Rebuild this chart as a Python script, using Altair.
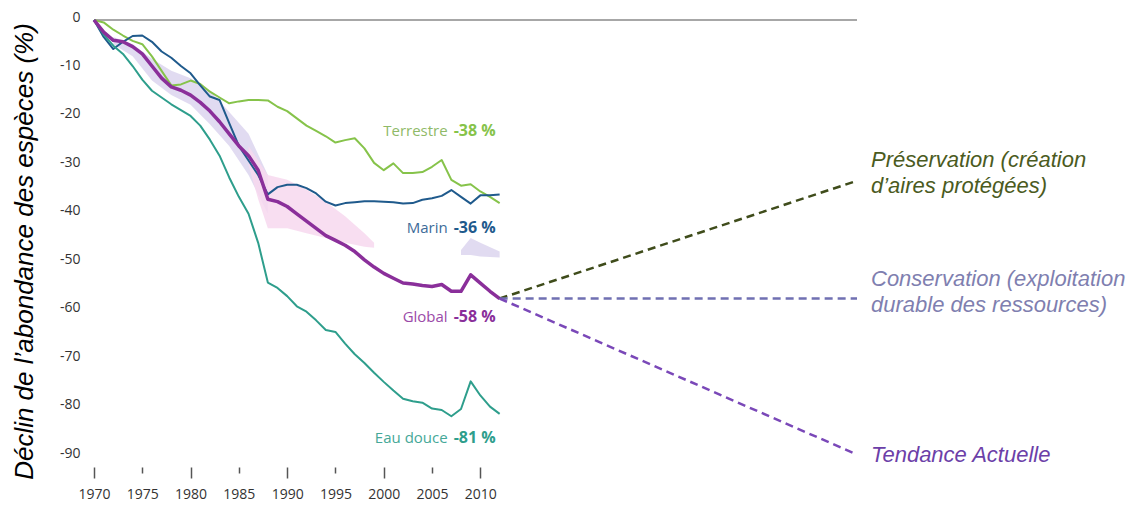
import altair as alt
import pandas as pd

# ---------------- data ----------------
years = list(range(1970, 2013))

terrestre = [0, -0.5, -2, -3.2, -4.3, -5, -7.5, -10.5, -13.5, -13.3,
             -12.5, -13.2, -14.8, -16, -17.2, -16.8, -16.5, -16.5, -16.6, -17.9,
             -18.8, -20.3, -21.8, -22.9, -24, -25.3, -24.8, -24.4, -26.5, -29.5,
             -31, -29.6, -31.6, -31.6, -31.4, -30.3, -28.9, -33, -34.2, -33.9,
             -35.4, -36.5, -37.8]

marin = [0, -3.5, -6, -4.5, -3.3, -3.2, -4.5, -6.5, -7.8, -9.5,
         -11, -13.5, -15.8, -16.5, -21.3, -26, -29, -32, -36, -34.5,
         -34, -34, -34.7, -35.8, -37.5, -38.3, -37.8, -37.6, -37.4, -37.4,
         -37.5, -37.6, -37.9, -37.8, -37.1, -36.8, -36.3, -35.1, -36.5, -37.9,
         -36.2, -36.2, -36]

global_ = [0, -2.5, -4.2, -4.5, -5.5, -7, -9.5, -12, -13.8, -14.5,
           -15.5, -17, -18.8, -21, -23.5, -26, -28, -31, -37, -37.5,
           -38.5, -40, -41.5, -43, -44.5, -45.5, -46.5, -47.8, -49.5, -51,
           -52.3, -53.3, -54.3, -54.5, -54.8, -55, -54.6, -56, -56, -52.6,
           -54.3, -56, -57.5]

eau_douce = [0, -3, -5.3, -7, -9.5, -12.3, -14.6, -16, -17.4, -18.6,
             -19.8, -21.8, -24.7, -28, -32.5, -36.5, -40, -46, -54.2, -55.3,
             -57, -59.1, -60.2, -62, -64, -64.4, -66.8, -69, -70.8, -72.8,
             -74.7, -76.5, -78.2, -78.7, -79, -80.2, -80.5, -81.8, -80.3, -74.6,
             -77.5, -79.8, -81.3]

series_names = ["Terrestre", "Marin", "Global", "Eau douce"]
series_colors = ["#86c34a", "#1f5a8c", "#8a2f9a", "#2e9e8c"]

# confidence band of the global index (three pieces)
band_seg = ["a"] * 9 + ["b"] * 9 + ["c"] * 4
band_years = [1972, 1974, 1976, 1978, 1980, 1982, 1984, 1986, 1988,
              1986, 1987, 1988, 1990, 1992, 1994, 1996, 1998, 1999,
              2008, 2009, 2010, 2012]
band_upper = [-3.5, -5, -8, -10.5, -12, -14.5, -19, -23.5, -32,
              -26, -29, -32, -33, -35, -37.5, -40.5, -44, -46,
              -47.5, -45, -46, -47.8]
band_lower = [-5, -7.5, -12.5, -15.5, -17.5, -21.5, -26, -32, -40,
              -30, -37, -43, -43, -44, -45, -46, -46.8, -47,
              -48.5, -48.5, -48.8, -49]
band_colors = ["#dcd5ee", "#f7d8ee", "#dcd5ee"]

# end labels
label_values = ["-38 %", "-36 %", "-58 %", "-81 %"]
label_anchor = [-22.9, -42.9, -61.4, -86.2]
label_year = 2012
name_colors = ["#8fba68", "#3d6b99", "#9b4aa8", "#45a898"]

# scenarios
scen_names = ["Préservation", "Conservation", "Tendance"]
scen_texts = ["Préservation (création\nd’aires protégées)",
              "Conservation (exploitation\ndurable des ressources)",
              "Tendance Actuelle"]
scen_start_year = 2012
scen_start_value = -57.5
scen_end_year = 2049
scen_end_values = [-33.2, -57.5, -89.7]
scen_line_colors = ["#3f4c1b", "#7070b2", "#7a48b8"]
scen_text_colors = ["#4b5b1e", "#7f7fb0", "#6c3fa8"]
scen_dy = [-21, -20, 0]

x_ticks = [1970, 1975, 1980, 1985, 1990, 1995, 2000, 2005, 2010]
y_ticks = [0, -10, -20, -30, -40, -50, -60, -70, -80, -90]
y_title = "Déclin de l’abondance des espèces (%)"

# ---------------- tables ----------------
rows = []
for name, vals in zip(series_names, [terrestre, marin, global_, eau_douce]):
    for yr, v in zip(years, vals):
        rows.append({"serie": name, "annee": yr, "valeur": v})
df = pd.DataFrame(rows)

band_df = pd.DataFrame({"seg": band_seg, "annee": band_years,
                        "haut": band_upper, "bas": band_lower})

lab_df = pd.DataFrame({"serie": series_names, "val": label_values,
                       "pos": label_anchor, "annee": [label_year] * 4})

scen_rows = []
for n, ev in zip(scen_names, scen_end_values):
    scen_rows.append({"scen": n, "annee": scen_start_year, "valeur": scen_start_value})
    scen_rows.append({"scen": n, "annee": scen_end_year, "valeur": ev})
scen_df = pd.DataFrame(scen_rows)
scen_txt_df = pd.DataFrame({"scen": scen_names, "txt": scen_texts,
                            "annee": [scen_end_year] * 3, "valeur": scen_end_values})

# ---------------- scales ----------------
xs = alt.Scale(domain=[1970, 2049], nice=False, zero=False)
ys = alt.Scale(domain=[-90, 0], nice=False, zero=False)

x_axis = alt.Axis(
    values=x_ticks, format="d", title=None, domain=False, grid=False,
    offset=11, labelFlush=False,
    tickSize={"condition": {"test": "datum.value % 10 === 0", "value": 11}, "value": 6},
    labelPadding={"condition": {"test": "datum.value % 10 === 0", "value": 9}, "value": 14},
    tickColor="#555555", tickWidth=1.5,
    labelFont="Open Sans", labelFontSize=14, labelColor="#333333",
)
y_axis = alt.Axis(
    values=y_ticks, title=y_title, domain=False, grid=False, ticks=False,
    labelExpr="datum.value == 0 ? '0' : '-' + abs(datum.value)",
    labelPadding=14, labelOffset=-3,
    labelFont="Open Sans", labelFontSize=14, labelColor="#333333",
    titleFont="Liberation Sans", titleFontStyle="italic", titleFontWeight="normal",
    titleFontSize=26, titleColor="#000000",
    titleAngle=270, titleX=-70, titleY=231, titleAlign="center", titleBaseline="middle",
)


def X():
    return alt.X("annee:Q", scale=xs, axis=x_axis)


def Y(f="valeur"):
    return alt.Y(f + ":Q", scale=ys, axis=y_axis)


top_rule = alt.Chart(pd.DataFrame({"v": [0]})).mark_rule(
    color="#8a8a8a", strokeWidth=1.5
).encode(y=alt.Y("v:Q", scale=ys, axis=y_axis))

band = alt.Chart(band_df).mark_area(opacity=0.85).encode(
    x=X(), y=Y("haut"), y2="bas:Q",
    color=alt.Color("seg:N", scale=alt.Scale(domain=["a", "b", "c"], range=band_colors), legend=None),
    detail="seg:N",
)

series_color = alt.Color("serie:N", scale=alt.Scale(domain=series_names, range=series_colors), legend=None)

thin_lines = alt.Chart(df).transform_filter(alt.datum.serie != "Global").mark_line(
    strokeJoin="round", strokeWidth=2
).encode(x=X(), y=Y(), color=series_color, order=alt.Order("annee:Q"))

global_line = alt.Chart(df).transform_filter(alt.datum.serie == "Global").mark_line(
    strokeJoin="round", strokeWidth=3.5
).encode(x=X(), y=Y(), color=series_color, order=alt.Order("annee:Q"))

scen_lines = alt.Chart(scen_df).mark_line(strokeDash=[8, 5], strokeWidth=2.5).encode(
    x=X(), y=Y(),
    color=alt.Color("scen:N", scale=alt.Scale(domain=scen_names, range=scen_line_colors), legend=None),
    detail="scen:N",
)

val_text = alt.Chart(lab_df).mark_text(
    align="right", baseline="middle", dx=-4, font="Open Sans", fontSize=16, fontWeight="bold"
).encode(
    x=X(), y=Y("pos"), text="val:N",
    color=alt.Color("serie:N", scale=alt.Scale(domain=series_names, range=series_colors), legend=None),
)

name_text = alt.Chart(lab_df).mark_text(
    align="right", baseline="middle", dx=-52, font="Open Sans", fontSize=15
).encode(
    x=X(), y=Y("pos"), text="serie:N",
    color=alt.Color("serie:N", scale=alt.Scale(domain=series_names, range=name_colors), legend=None),
)

scen_text_layers = []
for n, c, d in zip(scen_names, scen_text_colors, scen_dy):
    scen_text_layers.append(
        alt.Chart(scen_txt_df).transform_filter(alt.datum.scen == n).mark_text(
            align="left", baseline="middle", dx=14, dy=d, lineBreak="\n", lineHeight=26,
            font="Liberation Sans", fontStyle="italic", fontSize=22, color=c
        ).encode(x=X(), y=Y(), text="txt:N")
    )

chart = alt.layer(
    top_rule, band, thin_lines, global_line, scen_lines, name_text, val_text, *scen_text_layers
).resolve_scale(
    color="independent"
).properties(
    width=763, height=436,
    padding={"left": 2, "top": 2, "right": 0, "bottom": 0},
    background="#ffffff",
).configure_view(stroke=None)

chart.save("out.html", embed_options={"renderer": "svg", "actions": False})
